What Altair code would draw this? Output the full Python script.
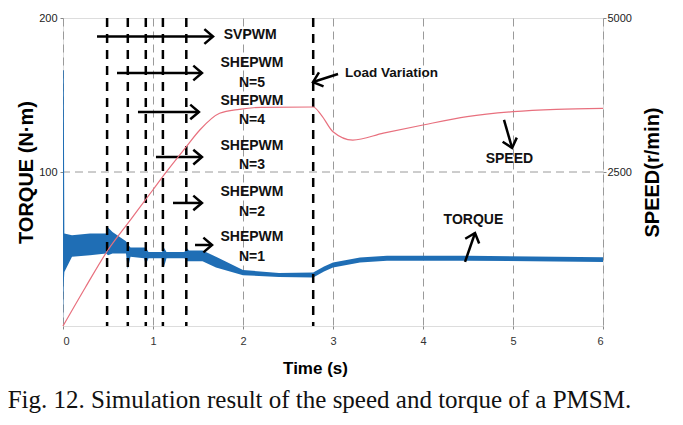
import altair as alt
import pandas as pd

# ---------------- data ----------------
torque_t = [0.0, 0.008, 0.015, 0.1, 0.3, 0.48, 0.5, 0.55, 0.7, 0.72, 0.75, 0.9, 0.92, 0.95,
            1.1, 1.12, 1.15, 1.35, 1.37, 1.4, 1.55, 1.7, 2.0, 2.4, 2.78, 2.9, 3.0, 3.3, 3.6, 4.5, 6.0]
torque_lo = [0, 28, 35, 45, 46, 47, 46, 47, 47, 37, 45, 44, 40, 44, 44, 38, 44, 44, 42, 42,
             42, 38, 33, 31.8, 31.5, 35.4, 38, 41.3, 42.4, 42.4, 41.6]
torque_hi = [166, 166, 60, 59, 60, 60, 64, 61, 55, 53, 51, 51, 51, 48, 48, 51, 48, 48, 51, 49,
             49, 45, 36.4, 34.4, 34.7, 38.6, 41.2, 44.5, 45.6, 45.6, 44.6]

speed_t = [0, 0.25, 0.5, 0.75, 1.0, 1.15, 1.37, 1.52, 1.74, 1.96, 2.2, 2.78, 2.87, 3.0,
           3.22, 3.56, 4.0, 4.49, 5.0, 5.48, 6.0]
speed_v = [0, 630, 1234, 1723, 2212, 2505, 2911, 3182, 3453, 3518, 3550, 3555, 3425, 3154,
           3019, 3130, 3263, 3398, 3479, 3518, 3534]

switch_t = [0.49, 0.72, 0.92, 1.11, 1.37, 2.78]
grid_torque = [100]

label_text = ["SVPWM", "SHEPWM", "N=5", "SHEPWM", "N=4", "SHEPWM", "N=3",
              "SHEPWM", "N=2", "SHEPWM", "N=1", "SPEED", "TORQUE"]
label_t = [2.08, 2.1, 2.1, 2.1, 2.1, 2.1, 2.1, 2.1, 2.1, 2.1, 2.1, 4.96, 4.56]
label_y = [189, 170.8, 157.8, 146.1, 133.8, 116.9, 104.5, 87.0, 74.0, 57.8, 44.8, 108.4, 68.8]

load_text = ["Load Variation"]
load_t = [3.133]
load_y = [164.3]

arrow_t0 = [0.378, 0.6, 0.833, 1.033, 1.222, 1.467, 3.056, 4.9, 4.467]
arrow_y0 = [188, 164.3, 139, 109.7, 79.9, 52.6, 163.6, 133.8, 41.6]
arrow_t1 = [1.667, 1.544, 1.51, 1.544, 1.544, 1.656, 2.778, 4.99, 4.578]
arrow_y1 = [188, 164.3, 139, 109.7, 79.9, 52.6, 158.4, 115.6, 60.4]
arrow_ang = [0, 0, 0, 0, 0, 0, 162, 74, 289]

caption = "Fig. 12. Simulation result of the speed and torque of a PMSM."

# ---------------- tables ----------------
torque_df = pd.DataFrame({"t": torque_t, "lo": torque_lo, "hi": torque_hi})
speed_df = pd.DataFrame({"t": speed_t, "s": speed_v})
switch_df = pd.DataFrame({"t": switch_t})
grid_df = pd.DataFrame({"y": grid_torque})
label_df = pd.DataFrame({"t": label_t, "y": label_y, "txt": label_text})
load_df = pd.DataFrame({"t": load_t, "y": load_y, "txt": load_text})
arrow_df = pd.DataFrame({"t0": arrow_t0, "y0": arrow_y0, "t1": arrow_t1,
                         "y1": arrow_y1, "ang": arrow_ang})

FONT = "Liberation Sans"
xscale = alt.Scale(domain=[0, 6], nice=False, zero=False)
yscale = alt.Scale(domain=[0, 200], nice=False)

xaxis = alt.Axis(values=[0, 1, 2, 3, 4, 5, 6], format="d", title="Time (s)", grid=True,
                 gridDash=[8, 5], gridColor="#9a9a9a", gridWidth=1,
                 domain=False, tickSize=3, tickColor="#888",
                 labelPadding=6, labelFont=FONT, labelFontSize=11,
                 labelColor="#333", titleFont=FONT, titleFontSize=17,
                 titleFontWeight="bold", titleColor="black",
                 titlePadding=14, titleX=252)
yaxis = alt.Axis(orient="left", values=[100, 200], format="d", title="TORQUE (N·m)",
                 grid=False, domain=False, tickSize=3, tickColor="#888", labelPadding=3,
                 labelFont=FONT, labelFontSize=11, labelColor="#222",
                 titleFont=FONT, titleFontSize=20, titleFontWeight="bold",
                 titleColor="black", titlePadding=2)

hgrid = alt.Chart(grid_df).mark_rule(
    color="#9a9a9a", strokeWidth=1, strokeDash=[8, 5]
).encode(y=alt.Y("y:Q", scale=yscale, axis=yaxis))

torque = alt.Chart(torque_df).mark_area(color="#1f6eb5", opacity=1).encode(
    x=alt.X("t:Q", scale=xscale, axis=xaxis),
    y=alt.Y("lo:Q", scale=yscale, axis=yaxis),
    y2="hi:Q",
)

switches = alt.Chart(switch_df).mark_rule(
    color="black", strokeWidth=2.5, strokeDash=[9, 7]
).encode(x=alt.X("t:Q", scale=xscale, axis=xaxis))

arrow_lines = alt.Chart(arrow_df).mark_rule(color="black", strokeWidth=2.5).encode(
    x=alt.X("t0:Q", scale=xscale, axis=xaxis),
    y=alt.Y("y0:Q", scale=yscale, axis=yaxis),
    x2="t1:Q",
    y2="y1:Q",
)

arrow_heads = alt.Chart(arrow_df).mark_point(
    shape="M-1,-0.85L0,0L-1,0.85", filled=False, stroke="black",
    strokeWidth=2.5, size=300, opacity=1
).encode(
    x=alt.X("t1:Q", scale=xscale, axis=xaxis),
    y=alt.Y("y1:Q", scale=yscale, axis=yaxis),
    angle=alt.Angle("ang:Q", scale=None),
)

labels = alt.Chart(label_df).mark_text(
    font=FONT, fontSize=14, fontWeight="bold", color="#111",
    align="center", baseline="middle"
).encode(
    x=alt.X("t:Q", scale=xscale, axis=xaxis),
    y=alt.Y("y:Q", scale=yscale, axis=yaxis),
    text="txt:N",
)

load_label = alt.Chart(load_df).mark_text(
    font=FONT, fontSize=13.5, fontWeight="bold", color="#111",
    align="left", baseline="middle"
).encode(
    x=alt.X("t:Q", scale=xscale, axis=xaxis),
    y=alt.Y("y:Q", scale=yscale, axis=yaxis),
    text="txt:N",
)

inner = alt.layer(hgrid, torque, switches, arrow_lines, arrow_heads, labels, load_label)

speed = alt.Chart(speed_df).mark_line(
    color="#e8707e", strokeWidth=1.2, interpolate="monotone"
).encode(
    x=alt.X("t:Q", scale=xscale, axis=xaxis),
    y=alt.Y("s:Q", scale=alt.Scale(domain=[0, 5000], nice=False),
            axis=alt.Axis(orient="right", values=[2500, 5000], format="d",
                          title="SPEED(r/min)",
                          grid=False, domain=False, tickSize=3, tickColor="#888",
                          labelPadding=1, labelFont=FONT, labelFontSize=11,
                          labelColor="#222", titleFont=FONT, titleFontSize=20,
                          titleFontWeight="bold", titleColor="black",
                          titleAngle=270, titlePadding=31)),
)

chart = alt.layer(inner, speed).resolve_scale(y="independent").properties(
    width=540,
    height=308,
    padding={"left": 55, "top": 10, "right": 72, "bottom": 95},
    autosize=alt.AutoSizeParams(type="none"),
    title=alt.TitleParams(caption, orient="bottom", anchor="start", font="Liberation Serif",
                          fontSize=25, fontWeight="normal", color="#111", offset=12, dx=-9),
).configure_view(stroke="#999", strokeWidth=1.5).configure(background="white")

chart.save("out.html", embed_options={"renderer": "svg", "actions": False})
